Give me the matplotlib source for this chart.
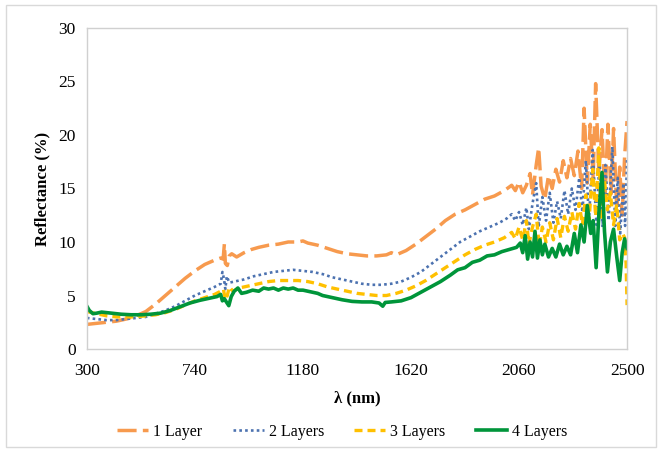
import matplotlib
matplotlib.use("Agg")
import matplotlib.pyplot as plt
from matplotlib.patches import Rectangle

# ---- data: reflectance spectra (%) vs wavelength (nm) ----
wl_1 = [300, 340, 380, 420, 460, 500, 540, 580, 620, 660, 700, 740, 780, 820, 845, 855,
        860, 864, 872, 880, 890, 910, 940, 970, 1000, 1040, 1080, 1120, 1160, 1180, 1200,
        1240, 1280, 1320, 1360, 1400, 1440, 1480, 1520, 1540, 1560, 1600, 1640, 1680, 1720,
        1760, 1800, 1840, 1880, 1920, 1960, 2000, 2030, 2045, 2060, 2075, 2090, 2105, 2115,
        2130, 2140, 2150, 2165, 2180, 2195, 2210, 2225, 2240, 2255, 2270, 2285, 2300, 2315,
        2325, 2338, 2350, 2362, 2372, 2385, 2398, 2410, 2422, 2435, 2445, 2458, 2470, 2480,
        2490, 2500]
r_1 = [2.3, 2.4, 2.5, 2.6, 2.8, 3.1, 3.5, 4.2, 5.0, 5.8, 6.6, 7.3, 7.9, 8.3, 8.5, 8.4,
       9.8, 8.0, 7.8, 8.7, 8.9, 8.6, 9.0, 9.3, 9.5, 9.7, 9.8, 10.0, 10.0, 10.1, 9.9,
       9.7, 9.4, 9.1, 8.9, 8.8, 8.7, 8.7, 8.8, 9.0, 8.8, 9.2, 9.8, 10.5, 11.2,
       12.0, 12.6, 13.0, 13.5, 14.0, 14.3, 14.8, 15.3, 14.8, 15.6, 14.6, 15.3, 16.4, 14.4,
       17.2, 18.8, 15.2, 14.0, 16.2, 15.0, 16.8, 15.6, 17.6, 16.0, 17.8, 16.2, 18.5, 15.0,
       22.5, 15.5, 21.0, 16.0, 24.8, 16.5, 20.5, 14.0, 21.0, 14.5, 20.6, 13.0, 17.0, 12.5,
       18.0, 21.3]

wl_2 = [300, 340, 380, 420, 460, 500, 540, 580, 620, 660, 700, 740, 780, 820, 845, 852,
        858, 864, 870, 880, 900, 940, 980, 1020, 1060, 1100, 1140, 1180, 1220, 1260, 1300,
        1340, 1380, 1420, 1460, 1500, 1540, 1580, 1620, 1660, 1700, 1740, 1780, 1820, 1860,
        1900, 1940, 1980, 2010, 2030, 2045, 2060, 2075, 2090, 2100, 2115, 2130, 2140, 2155,
        2170, 2185, 2200, 2215, 2230, 2245, 2260, 2275, 2290, 2305, 2318, 2332, 2345, 2360,
        2375, 2388, 2400, 2412, 2425, 2440, 2452, 2462, 2472, 2485, 2492, 2500]
r_2 = [2.9, 2.8, 2.7, 2.7, 2.8, 2.9, 3.0, 3.3, 3.6, 4.0, 4.5, 5.0, 5.4, 5.8, 6.1, 7.2,
       6.6, 5.6, 6.8, 6.2, 6.3, 6.5, 6.8, 7.0, 7.2, 7.3, 7.4, 7.3, 7.2, 7.0, 6.7,
       6.5, 6.3, 6.1, 6.0, 6.0, 6.1, 6.3, 6.7, 7.2, 7.9, 8.6, 9.3, 10.0, 10.5,
       11.0, 11.4, 11.8, 12.2, 12.6, 12.0, 12.8, 11.6, 13.2, 11.2, 13.6, 15.5, 11.4, 14.2,
       12.0, 14.6, 11.8, 13.8, 12.2, 14.8, 12.6, 15.0, 13.0, 16.0, 12.8, 17.6, 12.2, 18.6,
       11.6, 17.8, 11.4, 17.2, 12.0, 18.9, 11.5, 16.0, 10.8, 15.5, 11.5, 17.7]

wl_3 = [300, 340, 380, 420, 460, 500, 540, 580, 620, 660, 700, 740, 780, 820, 845, 856,
        864, 872, 880, 895, 920, 960, 1000, 1040, 1080, 1120, 1160, 1200, 1240, 1280, 1320,
        1360, 1400, 1440, 1480, 1520, 1560, 1600, 1640, 1680, 1720, 1760, 1800, 1840, 1880,
        1920, 1960, 2000, 2030, 2045, 2060, 2075, 2090, 2100, 2115, 2130, 2142, 2155, 2170,
        2185, 2200, 2215, 2230, 2245, 2260, 2275, 2290, 2305, 2318, 2332, 2345, 2360, 2372,
        2385, 2395, 2408, 2420, 2432, 2445, 2458, 2470, 2482, 2490, 2496, 2500]
r_3 = [3.5, 3.3, 3.1, 3.0, 3.0, 3.0, 3.1, 3.2, 3.4, 3.7, 4.1, 4.5, 4.8, 5.1, 5.4, 5.6,
       4.6, 5.0, 5.8, 5.4, 5.7, 5.9, 6.1, 6.3, 6.4, 6.4, 6.4, 6.3, 6.1, 5.8, 5.6,
       5.4, 5.2, 5.1, 5.0, 5.0, 5.2, 5.5, 5.9, 6.4, 7.0, 7.6, 8.2, 8.8, 9.3,
       9.7, 10.0, 10.4, 10.9, 10.3, 11.4, 10.2, 12.0, 9.8, 11.4, 12.6, 9.6, 11.4, 10.0,
       11.8, 10.2, 12.2, 10.4, 12.4, 11.0, 12.8, 11.2, 13.6, 11.6, 14.4, 12.0, 16.8, 12.4,
       18.8, 12.0, 15.8, 13.0, 14.6, 11.6, 13.5, 10.2, 10.8, 10.4, 8.0, 4.1]

wl_4 = [300, 310, 325, 340, 360, 380, 400, 440, 480, 520, 560, 600, 640, 680, 720, 760,
        800, 830, 845, 852, 860, 868, 878, 888, 900, 915, 930, 950, 975, 1000, 1020, 1040,
        1060, 1080, 1100, 1120, 1140, 1160, 1180, 1200, 1220, 1240, 1260, 1280, 1300, 1340,
        1380, 1420, 1460, 1490, 1505, 1515, 1540, 1580, 1620, 1660, 1700, 1740, 1780, 1810,
        1840, 1870, 1900, 1930, 1960, 1990, 2020, 2050, 2065, 2075, 2085, 2095, 2105, 2115,
        2125, 2135, 2145, 2155, 2165, 2180, 2195, 2210, 2225, 2240, 2255, 2270, 2285, 2298,
        2312, 2325, 2338, 2352, 2362, 2374, 2386, 2398, 2408, 2420, 2432, 2445, 2458, 2470,
        2480, 2490, 2500]
r_4 = [4.0, 3.6, 3.3, 3.35, 3.45, 3.4, 3.35, 3.25, 3.2, 3.2, 3.25, 3.35, 3.6, 3.95, 4.3, 4.55,
       4.75, 4.9, 5.1, 4.5, 4.7, 4.4, 4.05, 4.9, 5.4, 5.7, 5.2, 5.3, 5.5, 5.4, 5.7, 5.6,
       5.7, 5.5, 5.7, 5.6, 5.7, 5.5, 5.5, 5.4, 5.3, 5.2, 5.0, 4.9, 4.8, 4.6,
       4.45, 4.4, 4.4, 4.3, 4.0, 4.35, 4.4, 4.5, 4.8, 5.3, 5.8, 6.3, 6.9, 7.4,
       7.6, 8.1, 8.3, 8.7, 8.8, 9.1, 9.3, 9.5, 9.9, 9.0, 10.6, 8.4, 10.0, 8.6,
       11.0, 8.5, 10.2, 8.8, 9.8, 8.6, 9.4, 8.6, 9.8, 8.8, 9.6, 8.8, 10.8, 9.0,
       11.6, 10.0, 13.4, 10.8, 12.0, 7.6, 13.0, 16.5, 11.0, 7.2, 10.0, 11.2, 8.6, 6.4,
       9.0, 10.3, 9.4]

series_labels = ["1 Layer", "2 Layers", "3 Layers", "4 Layers"]
x_ticks = [300, 740, 1180, 1620, 2060, 2500]
y_ticks = [0, 5, 10, 15, 20, 25, 30]

plt.rcParams["font.family"] = ["Liberation Serif", "DejaVu Serif"]

fig = plt.figure(figsize=(6.58, 4.49), dpi=100)
ax = fig.add_axes([0.132, 0.2227, 0.821, 0.715])

# outer chart border
fig.patches.append(Rectangle((6 / 658, 2 / 449), 650 / 658, 442 / 449,
                             transform=fig.transFigure, fill=False,
                             edgecolor="#d9d9d9", linewidth=1.0))

ax.plot(wl_1, r_1, color="#F79A4E", lw=2.5, linestyle=(0, (5.5, 1.8)),
        label=series_labels[0])
ax.plot(wl_2, r_2, color="#4C72B0", lw=1.9, linestyle=(0, (1.0, 1.2)),
        label=series_labels[1])
ax.plot(wl_3, r_3, color="#FFC000", lw=2.4, linestyle=(0, (2.4, 1.5)),
        label=series_labels[2])
ax.plot(wl_4, r_4, color="#00953A", lw=2.6, linestyle="-",
        label=series_labels[3])

ax.set_xlim(300, 2500)
ax.set_ylim(0, 30)
ax.set_xticks(x_ticks)
ax.set_yticks(y_ticks)
ax.tick_params(axis="both", length=0, labelsize=12.5, pad=8)
ax.tick_params(axis="x", pad=10)
for s in ax.spines.values():
    s.set_color("#d0d0d0")
    s.set_linewidth(1.0)

ax.set_xlabel("λ (nm)", fontsize=12, fontweight="bold", labelpad=8)
ax.set_ylabel("Reflectance (%)", fontsize=12, fontweight="bold", labelpad=6)

fig.legend(loc="center", bbox_to_anchor=(0.52, 0.038), ncol=4, frameon=False,
           fontsize=11.5, handlelength=1.95, handletextpad=0.3, columnspacing=1.9)

fig.savefig("out.png", dpi=100)
